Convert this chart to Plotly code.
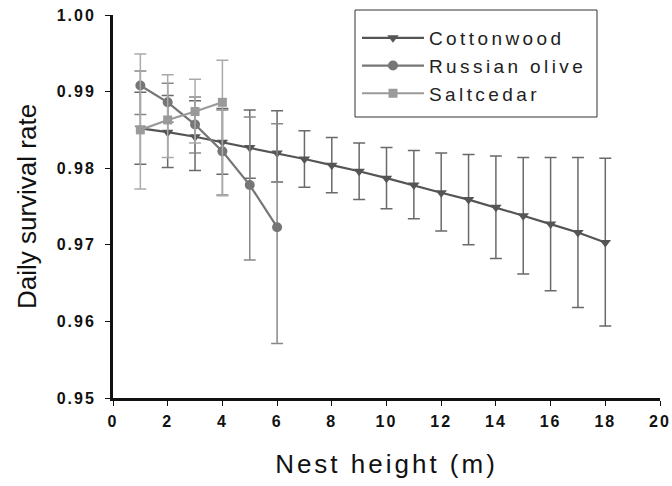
import plotly.graph_objects as go

# Cottonwood
cw_x = list(range(1, 19))
cw_y = [0.9852, 0.9847, 0.9841, 0.9834, 0.9827, 0.9820, 0.9812, 0.9804, 0.9796,
        0.9787, 0.9778, 0.9768, 0.9759, 0.9749, 0.9738, 0.9727, 0.9716, 0.9703]
cw_hi = [0.9899, 0.9895, 0.9888, 0.9878, 0.9876, 0.9875, 0.9849, 0.9840, 0.9833,
         0.9827, 0.9823, 0.9820, 0.9818, 0.9816, 0.9814, 0.9814, 0.9814, 0.9813]
cw_lo = [0.9805, 0.9801, 0.9797, 0.9792, 0.9787, 0.9782, 0.9775, 0.9768, 0.9759,
         0.9747, 0.9734, 0.9718, 0.9700, 0.9682, 0.9662, 0.9640, 0.9618, 0.9594]

# Russian olive
ro_x = [1, 2, 3, 4, 5, 6]
ro_y = [0.9908, 0.9886, 0.9857, 0.9822, 0.9778, 0.9723]
ro_hi = [0.9927, 0.9911, 0.9893, 0.9876, 0.9867, 0.9858]
ro_lo = [0.9870, 0.9860, 0.9820, 0.9765, 0.9680, 0.9571]

# Saltcedar
sc_x = [1, 2, 3, 4]
sc_y = [0.9850, 0.9863, 0.9874, 0.9886]
sc_hi = [0.9949, 0.9922, 0.9916, 0.9941]
sc_lo = [0.9773, 0.9814, 0.9833, 0.9764]

y_ticks = [0.95, 0.96, 0.97, 0.98, 0.99, 1.00]
x_ticks = [0, 2, 4, 6, 8, 10, 12, 14, 16, 18, 20]

FONT = "Liberation Sans, Arial, sans-serif"

# plot area in pixels (for paper-coordinate conversion of the legend frame)
L, R, T, B = 113, 660, 15, 398


def px_x(p):
    return (p - L) / (R - L)


def px_y(p):
    return (B - p) / (B - T)


def spaced(text, px):
    return f'<span style="letter-spacing:{px}px">{text}</span>'


def trace(name, x, y, hi, lo, color, ecolor, symbol, size):
    return go.Scatter(
        x=x, y=y, name=spaced(name, 3.4), mode="lines+markers",
        line=dict(color=color, width=2.2),
        marker=dict(color=color, symbol=symbol, size=size),
        error_y=dict(type="data", symmetric=False,
                     array=[h - v for h, v in zip(hi, y)],
                     arrayminus=[v - l for v, l in zip(y, lo)],
                     color=ecolor, thickness=1.5, width=6),
    )


fig = go.Figure()
fig.add_trace(trace("Cottonwood", cw_x, cw_y, cw_hi, cw_lo, "#555555", "#6a6a6a", "triangle-down", 10))
fig.add_trace(trace("Russian olive", ro_x, ro_y, ro_hi, ro_lo, "#767676", "#888888", "circle", 10))
fig.add_trace(trace("Saltcedar", sc_x, sc_y, sc_hi, sc_lo, "#9a9a9a", "#aaaaaa", "square", 9))

fig.add_shape(type="rect", xref="paper", yref="paper",
              x0=px_x(355), x1=px_x(597), y0=px_y(117), y1=px_y(10),
              line=dict(color="#333333", width=1), fillcolor="white", layer="below")

fig.update_layout(
    width=672, height=486,
    margin=dict(l=L, r=672 - R, t=T, b=486 - B),
    paper_bgcolor="white", plot_bgcolor="white",
    font=dict(family=FONT, color="#111111"),
    showlegend=True,
    legend=dict(
        x=px_x(357), y=px_y(19), xanchor="left", yanchor="top",
        borderwidth=0, bgcolor="rgba(0,0,0,0)",
        font=dict(family=FONT, size=19, color="#222222"),
        itemwidth=62, tracegroupgap=0,
    ),
    xaxis=dict(
        range=[0, 20], tickvals=x_ticks, ticktext=[spaced(str(t), 2) for t in x_ticks],
        automargin=False,
        showgrid=False, zeroline=False,
        showline=True, linecolor="#111111", linewidth=3,
        ticks="outside", ticklen=5, tickwidth=1, tickcolor="#111111",
        tickfont=dict(family=FONT, size=16, color="#111111", weight="bold"),
        ticklabelstandoff=2,
        title=dict(text=spaced("Nest height (m)", 3), font=dict(family=FONT, size=26, color="#111111"),
                   standoff=26),
    ),
    yaxis=dict(
        range=[0.95, 1.00], tickvals=y_ticks, ticktext=[spaced(f"{t:.2f}", 2) for t in y_ticks],
        automargin=False,
        showgrid=False, zeroline=False,
        showline=True, linecolor="#111111", linewidth=3,
        ticks="outside", ticklen=5, tickwidth=1, tickcolor="#111111",
        tickfont=dict(family=FONT, size=16, color="#111111", weight="bold"),
        ticklabelstandoff=6,
        title=dict(text="Daily survival rate", font=dict(family=FONT, size=26, color="#111111"),
                   standoff=13),
    ),
)

fig.write_html("out.html")
